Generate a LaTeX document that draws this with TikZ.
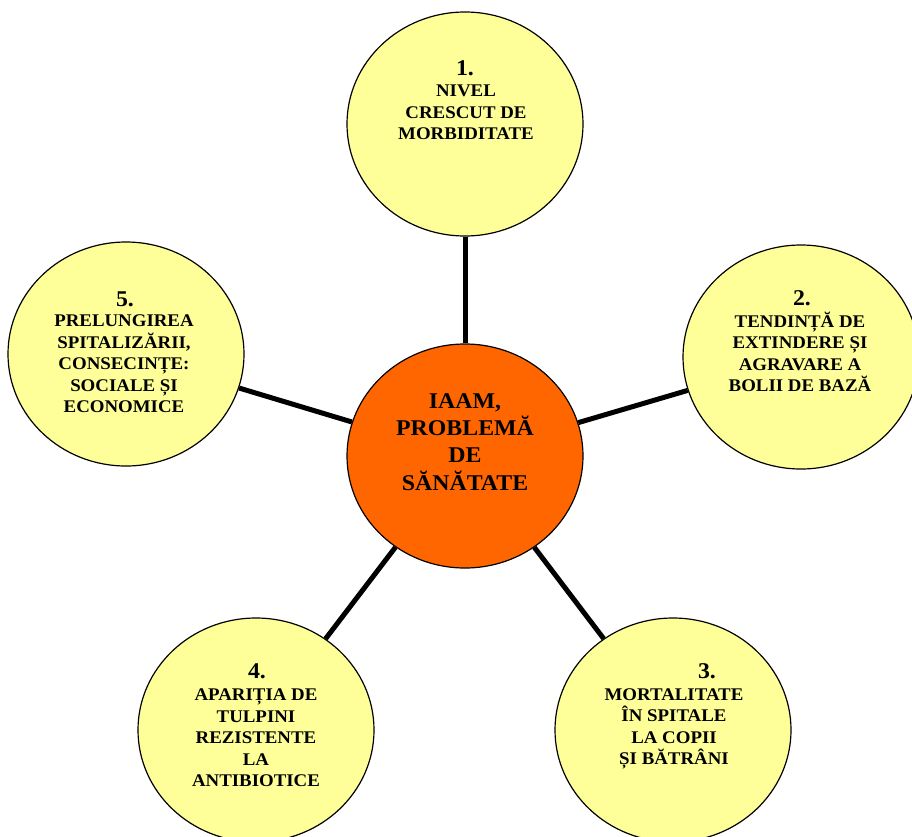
\documentclass[tikz,border=0pt]{standalone}
\usepackage{fontspec}
\setmainfont{Liberation Serif}[FakeStretch=1.06]
\usetikzlibrary{shapes.geometric,backgrounds}
\definecolor{paleyellow}{HTML}{FFFF99}
\definecolor{hotorange}{HTML}{FF6600}
\tikzset{
  bubble/.style={ellipse, draw=black, line width=1.2pt, fill=paleyellow,
    minimum width=236pt, minimum height=224pt, inner sep=0pt},
  hub/.style={bubble, fill=hotorange},
  numtxt/.style={anchor=base, inner sep=0pt, font=\fontsize{22.5}{23}\selectfont\bfseries},
  bodytxt/.style={anchor=base, inner sep=0pt, align=center,
    font=\fontsize{17.8}{21.5}\selectfont\bfseries},
  hubtxt/.style={anchor=base, inner sep=0pt, align=center,
    font=\fontsize{22.5}{27.3}\selectfont\bfseries},
  conn/.style={line width=5pt, draw=black}
}
\begin{document}
\begin{tikzpicture}[x=1pt,y=-1pt]
\useasboundingbox (0,0) rectangle (912,836);
\clip (0,0) rectangle (912,836);
\node[hub] (C) at (465,456) {};
\node[bubble] (n1) at (465,124) {};
\node[bubble] (n2) at (801,357) {};
\node[bubble] (n3) at (673,730) {};
\node[bubble] (n4) at (256,730) {};
\node[bubble] (n5) at (126,354) {};
\begin{pgfonlayer}{background}
\draw[conn] (C) -- (n1);
\draw[conn] (C) -- (n2);
\draw[conn] (C) -- (n3);
\draw[conn] (C) -- (n4);
\draw[conn] (C) -- (n5);
\end{pgfonlayer}
% anchor=base of a multi-line node is the baseline of its last line
\node[hubtxt] (tc) at (465,490) {IAAM,\\PROBLEMĂ\\DE\\SĂNĂTATE};
\node[numtxt] (k1) at (465,75) {1.};
\node[bodytxt] (t1) at (466,139.5) {NIVEL\\CRESCUT DE\\MORBIDITATE};
\node[numtxt] (k2) at (802,305) {2.};
\node[bodytxt] (t2) at (800,391.5) {TENDINȚĂ DE\\EXTINDERE ȘI\\AGRAVARE A\\BOLII DE BAZĂ};
\node[numtxt] (k3) at (707,678) {3.};
\node[bodytxt] (t3) at (674,764.5) {MORTALITATE\\ÎN SPITALE\\LA COPII\\ȘI BĂTRÂNI};
\node[numtxt] (k4) at (257,678) {4.};
\node[bodytxt] (t4) at (256,786.5) {APARIȚIA DE\\TULPINI\\REZISTENTE\\LA\\ANTIBIOTICE};
\node[numtxt] (k5) at (125,306) {5.};
\node[bodytxt] (t5) at (124,412.5) {PRELUNGIREA\\SPITALIZĂRII,\\CONSECINȚE:\\SOCIALE ȘI\\ECONOMICE};
\end{tikzpicture}
\end{document}
